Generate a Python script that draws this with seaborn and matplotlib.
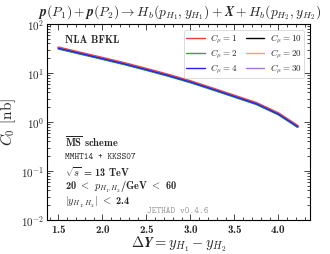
import numpy as np
import pandas as pd
import matplotlib
matplotlib.use("Agg")
import matplotlib.pyplot as plt
import seaborn as sns
from matplotlib.ticker import MultipleLocator, LogLocator, NullFormatter

delta_y = [1.5, 1.75, 2.0, 2.25, 2.5, 2.75, 3.0, 3.25, 3.5, 3.75, 4.0, 4.22]
c0_base = [31.9, 25.0, 19.6, 15.3, 11.7, 8.85, 6.55, 4.68, 3.32, 2.35, 1.45, 0.80]
c_mu = [1, 2, 4, 10, 20, 30]
scale = [1.03, 0.965, 1.0, 0.99, 0.995, 1.01]
colors = ["#e8413c", "#3aa63a", "#2222ee", "#000000", "#ffa64d", "#a774e0"]

rows = []
for cm, s in zip(c_mu, scale):
    for x, v in zip(delta_y, c0_base):
        rows.append({"dy": x, "c0": v * s, "cmu": cm})
df = pd.DataFrame(rows)

sns.set_theme(style="ticks")
plt.rcParams["mathtext.fontset"] = "cm"
plt.rcParams["font.family"] = ["cmr10", "DejaVu Serif"]
plt.rcParams["axes.formatter.use_mathtext"] = True
plt.rcParams["axes.unicode_minus"] = True

fig = plt.figure(figsize=(3.3, 2.54), dpi=100)
ax = fig.add_axes([47/330, 1-220/254, 263/330, 196/254])

order = [1, 10, 20, 30, 2, 4]
lws = {1: 1.9, 2: 1.0, 4: 1.0, 10: 1.0, 20: 1.0, 30: 1.0}
handles = {}
for cm in order:
    sub = df[df["cmu"] == cm]
    idx = c_mu.index(cm)
    sns.lineplot(data=sub, x="dy", y="c0", ax=ax, color=colors[idx], lw=lws[cm],
                 legend=False)
    handles[cm] = plt.Line2D([], [], color=colors[idx], lw=1.0,
                             label=r"$C_\mu = %d$" % cm)

ax.set_yscale("log")
ax.set_xlim(1.37, 4.36)
ax.set_ylim(1e-2, 1e2)
ax.xaxis.set_major_locator(MultipleLocator(0.5))
ax.xaxis.set_minor_locator(MultipleLocator(0.1))
ax.yaxis.set_minor_locator(LogLocator(base=10, subs=np.arange(2, 10)))
ax.yaxis.set_minor_formatter(NullFormatter())
ax.tick_params(which="both", direction="in", top=True, right=True,
               labelsize=8, width=0.6, pad=2)
ax.tick_params(which="major", length=4)
ax.tick_params(which="minor", length=2)
for sp in ax.spines.values():
    sp.set_linewidth(0.8)
    sp.set_color("black")
for lab in ax.get_xticklabels():
    lab.set_fontfamily("cmb10")

ax.set_xlabel(r"$\mathbf{\Delta} \boldsymbol{Y = y_{H_1} - y_{H_2}}$", fontsize=10.5, labelpad=0)
ax.set_ylabel(r"$\boldsymbol{C_0}$ [nb]", fontsize=11, labelpad=2)
fig.text(0.545, 0.952,
         r"$\boldsymbol{p(P_1) + p(P_2) \to H_b(p_{H_1}, y_{H_1}) + X + H_b(p_{H_2}, y_{H_2})}$",
         ha="center", va="center", fontsize=9.8)

leg = ax.legend(handles=[handles[c] for c in c_mu], loc="upper right", ncol=2,
                fontsize=6.5, frameon=True, handlelength=2.0, columnspacing=1.0,
                borderpad=0.25, labelspacing=0.2, handletextpad=0.6, fancybox=True,
                bbox_to_anchor=(0.993, 0.99))
leg.get_frame().set_linewidth(0.6)

ax.text(0.068, 0.918, "NLA BFKL", transform=ax.transAxes, fontsize=7.5,
        family="cmb10", va="center")
ax.text(0.068, 0.398, r"$\overline{\mathbf{MS}}$ scheme", transform=ax.transAxes,
        fontsize=7.5, family="cmb10", va="center")
ax.text(0.068, 0.321, "MMHT14 + KKSS07", transform=ax.transAxes, fontsize=6.5,
        family="cmtt10", va="center")
ax.text(0.068, 0.245, r"$\sqrt{s}$ = 13 TeV", transform=ax.transAxes,
        fontsize=7.5, family="cmb10", va="center")
ax.text(0.068, 0.168, r"20 $<$ $p_{H_1\!,H_2}$/GeV $<$ 60", transform=ax.transAxes,
        fontsize=7.5, family="cmb10", va="center")
ax.text(0.068, 0.092, r"$|y_{H_1\!,H_2}|$ $<$ 2.4", transform=ax.transAxes,
        fontsize=7.5, family="cmb10", va="center")
ax.text(0.38, 0.045, "JETHAD v0.4.6", transform=ax.transAxes, fontsize=6.5,
        family="cmtt10", color="#999999", va="center")

fig.savefig("out.png", dpi=100)
